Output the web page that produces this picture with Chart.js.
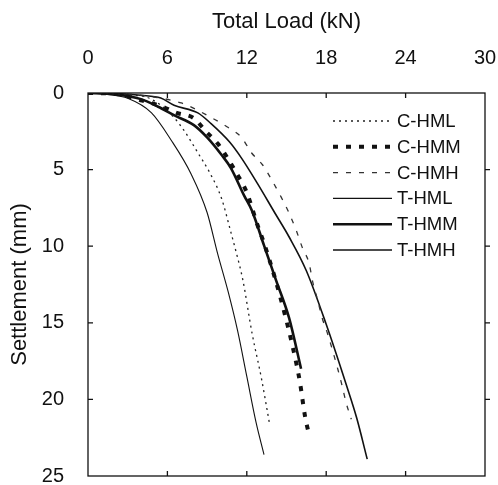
<!DOCTYPE html>
<html>
<head>
<meta charset="utf-8">
<script src="https://cdn.jsdelivr.net/npm/chart.js@4"></script>
<style>
  html, body { margin: 0; padding: 0; background: #fff; overflow: hidden; }
  canvas { display: block; }
</style>
</head>
<body>
<canvas id="loadChart" width="498" height="485"></canvas>
<script>
// series names
const seriesNames = ['C-HML', 'C-HMM', 'C-HMH', 'T-HML', 'T-HMM', 'T-HMH'];

// load (kN) and settlement (mm)
const cHmlLoad = [0, 2, 3.5, 4.4, 5.5, 6.5, 7.3, 8.3, 9.2, 10.1, 10.8, 11.2, 11.7, 12.4, 13.1, 13.7];
const cHmlSettle = [0, 0.05, 0.15, 0.26, 0.8, 1.6, 2.5, 3.9, 5.2, 6.9, 9.1, 10.4, 12.2, 15.7, 18.6, 21.5];

const cHmmLoad = [0, 2, 4.1, 5.5, 6.7, 8.0, 8.9, 9.8, 11.2, 12.0, 12.8, 13.3, 14.1, 14.8, 15.45, 16.0, 16.4, 16.7];
const cHmmSettle = [0, 0.05, 0.5, 0.85, 1.3, 1.65, 2.5, 3.3, 5.2, 6.5, 8.6, 9.8, 12.0, 14.2, 16.5, 18.8, 21.1, 22.3];

const cHmhLoad = [0, 2.5, 4, 5.5, 7.05, 8.0, 9.3, 10.5, 11.6, 12.35, 13.2, 13.9, 14.6, 15.2, 15.75, 16.2, 16.7, 17.0, 17.35, 17.7, 18.1, 18.9, 19.2, 19.5, 19.9];
const cHmhSettle = [0, 0.05, 0.15, 0.33, 0.65, 1.0, 1.6, 2.2, 2.9, 3.9, 4.7, 5.7, 6.8, 7.85, 9.0, 10.1, 11.1, 12.4, 13.5, 14.7, 15.7, 18.1, 19.1, 20.2, 21.3];

const tHmlLoad = [0, 1.5, 3.0, 4.8, 6.3, 7.8, 9.0, 9.8, 10.6, 11.3, 12.0, 12.7, 13.3];
const tHmlSettle = [0, 0.1, 0.35, 1.3, 3.1, 5.3, 7.8, 10.5, 13.0, 15.5, 18.5, 21.5, 23.6];

const tHmmLoad = [0, 2, 4, 5.3, 6.5, 8.0, 9.0, 10.1, 10.8, 11.8, 12.4, 13.3, 14.2, 15.2, 16.1];
const tHmmSettle = [0, 0.08, 0.4, 0.9, 1.45, 2.1, 2.9, 4.05, 4.9, 6.7, 7.7, 9.95, 12.2, 14.7, 18.0];

const tHmhLoad = [0, 2.5, 4, 5.5, 6.5, 8.3, 9.3, 10.7, 11.6, 12.8, 14.1, 15.2, 16.5, 18.0, 19.5, 20.3, 21.1];
const tHmhSettle = [0, 0.05, 0.15, 0.33, 0.8, 1.3, 2.0, 3.2, 4.25, 5.9, 7.8, 9.4, 11.6, 15.1, 19.0, 21.2, 23.9];

const xTicks = [0, 6, 12, 18, 24, 30];
const yTicks = [0, 5, 10, 15, 20, 25];

function toPoints(xs, ys) {
  return xs.map((x, i) => ({ x: x, y: ys[i] }));
}

const lineStyles = [
  { borderWidth: 1.3, borderDash: [2, 4], borderColor: '#222' },
  { borderWidth: 4, borderDash: [5, 8], borderColor: '#111' },
  { borderWidth: 1.3, borderDash: [5, 8], borderColor: '#333' },
  { borderWidth: 1.1, borderDash: [], borderColor: '#111' },
  { borderWidth: 2.6, borderDash: [], borderColor: '#111' },
  { borderWidth: 1.6, borderDash: [], borderColor: '#111' }
];

const allLoads = [cHmlLoad, cHmmLoad, cHmhLoad, tHmlLoad, tHmmLoad, tHmhLoad];
const allSettles = [cHmlSettle, cHmmSettle, cHmhSettle, tHmlSettle, tHmmSettle, tHmhSettle];

const datasets = seriesNames.map((name, i) => Object.assign({
  label: name,
  data: toPoints(allLoads[i], allSettles[i]),
  showLine: true,
  pointRadius: 0,
  cubicInterpolationMode: 'monotone',
  fill: false
}, lineStyles[i]));

// box border, inward ticks and the legend
const framePlugin = {
  id: 'frame',
  afterDraw(chart) {
    const ctx = chart.ctx;
    const a = chart.chartArea;
    const xs = chart.scales.x;
    const ys = chart.scales.y;
    ctx.save();
    ctx.strokeStyle = '#111';
    ctx.lineWidth = 1.3;
    ctx.setLineDash([]);
    ctx.strokeRect(a.left, a.top, a.right - a.left, a.bottom - a.top);
    ctx.beginPath();
    xTicks.slice(1, -1).forEach(v => {
      const px = xs.getPixelForValue(v);
      ctx.moveTo(px, a.top); ctx.lineTo(px, a.top + 5);
      ctx.moveTo(px, a.bottom); ctx.lineTo(px, a.bottom - 5);
    });
    yTicks.slice(1, -1).forEach(v => {
      const py = ys.getPixelForValue(v);
      ctx.moveTo(a.left, py); ctx.lineTo(a.left + 5, py);
      ctx.moveTo(a.right, py); ctx.lineTo(a.right + 5, py);
    });
    ctx.stroke();

    // legend
    ctx.font = '18.5px "Liberation Sans", Arial, sans-serif';
    ctx.textBaseline = 'middle';
    ctx.fillStyle = '#111';
    chart.data.datasets.forEach((ds, i) => {
      const y = 121 + i * 25.8;
      ctx.beginPath();
      ctx.lineWidth = ds.borderWidth;
      ctx.strokeStyle = ds.borderColor;
      ctx.setLineDash(ds.borderDash);
      ctx.moveTo(333, y);
      ctx.lineTo(392, y);
      ctx.stroke();
      ctx.setLineDash([]);
      ctx.fillText(ds.label, 397, y + 1);
    });
    ctx.restore();
  }
};

Chart.defaults.font.family = '"Liberation Sans", Arial, sans-serif';
Chart.defaults.color = '#111';

new Chart(document.getElementById('loadChart'), {
  type: 'scatter',
  data: { datasets: datasets },
  options: {
    responsive: false,
    animation: false,
    layout: { padding: { top: 5, left: 3, right: 13, bottom: 9 } },
    plugins: {
      legend: { display: false },
      tooltip: { enabled: false }
    },
    scales: {
      x: {
        type: 'linear',
        position: 'top',
        min: 0,
        max: 30,
        afterBuildTicks: s => { s.ticks = xTicks.map(v => ({ value: v })); },
        afterFit: s => { s.height = 88; s.paddingLeft = 0; s.paddingRight = 0; },
        ticks: { padding: 23, font: { size: 20 }, color: '#111' },
        grid: { display: false, drawTicks: false },
        border: { display: false },
        title: { display: true, text: 'Total Load (kN)', font: { size: 22 }, color: '#111', padding: { top: 4, bottom: 4 } }
      },
      y: {
        type: 'linear',
        reverse: true,
        min: 0,
        max: 25,
        afterBuildTicks: s => { s.ticks = yTicks.map(v => ({ value: v })); },
        afterFit: s => { s.width = 85; s.paddingTop = 0; s.paddingBottom = 0; },
        ticks: { padding: 24, font: { size: 20 }, color: '#111' },
        grid: { display: false, drawTicks: false },
        border: { display: false },
        title: { display: true, text: 'Settlement (mm)', font: { size: 22 }, color: '#111', padding: { top: 4, bottom: 4 } }
      }
    }
  },
  plugins: [framePlugin]
});
</script>
</body>
</html>
